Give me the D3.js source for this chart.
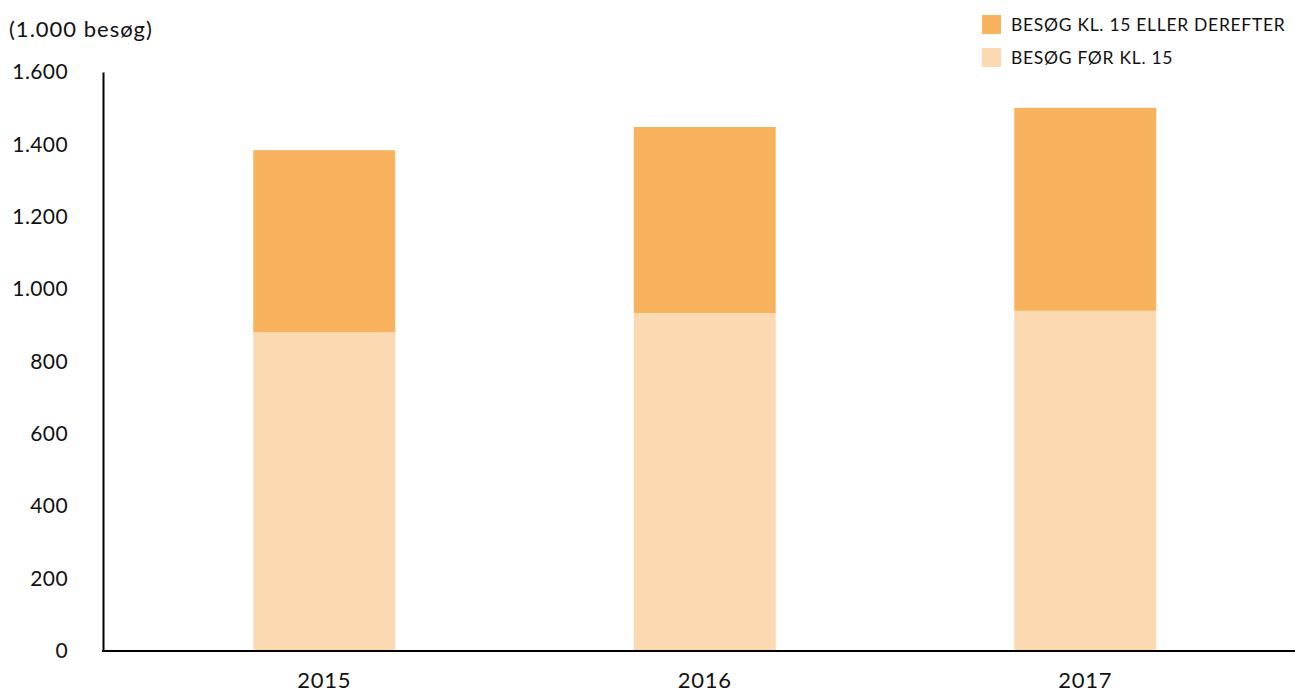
<!DOCTYPE html>
<html>
<head>
<meta charset="utf-8">
<script src="https://cdn.jsdelivr.net/npm/d3@7"></script>
<style>
  body { margin: 0; background: #fff; }
  text { font-family: "Lato", "Open Sans", sans-serif; fill: #111; }
</style>
</head>
<body>
<div id="chart"></div>
<script>
const years = ['2015', '2016', '2017'];
const before15 = [881, 934, 940];
const after15 = [503, 514, 561];
const yTicks = [0, 200, 400, 600, 800, 1000, 1200, 1400, 1600];
const seriesNames = ['BESØG KL. 15 ELLER DEREFTER', 'BESØG FØR KL. 15'];
const colors = { before: '#FCDAB1', after: '#F8B25E' };

const svg = d3.select('#chart')
  .append('svg')
  .attr('width', 1295)
  .attr('height', 694);

const x = d3.scaleBand()
  .domain(years)
  .range([134, 1275.5])
  .paddingInner(0.627)
  .paddingOuter(0.3135);

const y = d3.scaleLinear()
  .domain([0, 1600])
  .range([651, 72]);

const rows = years.map((yr, i) => ({ year: yr, before: before15[i], after: after15[i] }));
const stack = d3.stack().keys(['before', 'after'])(rows);

// Bars
svg.append('g')
  .selectAll('g')
  .data(stack)
  .enter().append('g')
    .attr('fill', d => colors[d.key])
  .selectAll('rect')
  .data(d => d)
  .enter().append('rect')
    .attr('x', d => x(d.data.year))
    .attr('width', x.bandwidth())
    .attr('y', d => y(d[1]))
    .attr('height', d => y(d[0]) - y(d[1]));

// Y axis
const yAxis = svg.append('g')
  .attr('transform', 'translate(103,0)')
  .call(d3.axisLeft(y).tickValues(yTicks).tickSize(0).tickPadding(35)
    .tickFormat(d => d3.format(',')(d).replace(/,/g, '.')));
yAxis.select('.domain').attr('stroke', '#000').attr('stroke-width', 2);
yAxis.selectAll('text').style('font-size', '21px').style('letter-spacing', '0.4px').attr('fill', '#111');

// X axis
const xAxis = svg.append('g')
  .attr('transform', 'translate(0,651)')
  .call(d3.axisBottom(x).tickSize(0).tickPadding(21));
xAxis.select('.domain').attr('d', 'M102,0H1295').attr('stroke', '#000').attr('stroke-width', 2);
xAxis.selectAll('text').style('font-size', '22px').style('letter-spacing', '0.8px').attr('fill', '#111');

// Unit label
svg.append('text')
  .attr('x', 9)
  .attr('y', 37)
  .style('font-size', '22px')
  .style('letter-spacing', '1px')
  .text('(1.000 besøg)');

// Legend
const legend = svg.append('g')
  .selectAll('g')
  .data(seriesNames)
  .enter().append('g')
    .attr('transform', (d, i) => `translate(982,${15 + i * 33})`);

legend.append('rect')
  .attr('width', 19)
  .attr('height', 19)
  .attr('fill', (d, i) => i === 0 ? colors.after : colors.before);

legend.append('text')
  .attr('x', 29)
  .attr('y', 16)
  .style('font-size', '17.5px')
  .style('letter-spacing', '0.7px')
  .text(d => d);
</script>
</body>
</html>
